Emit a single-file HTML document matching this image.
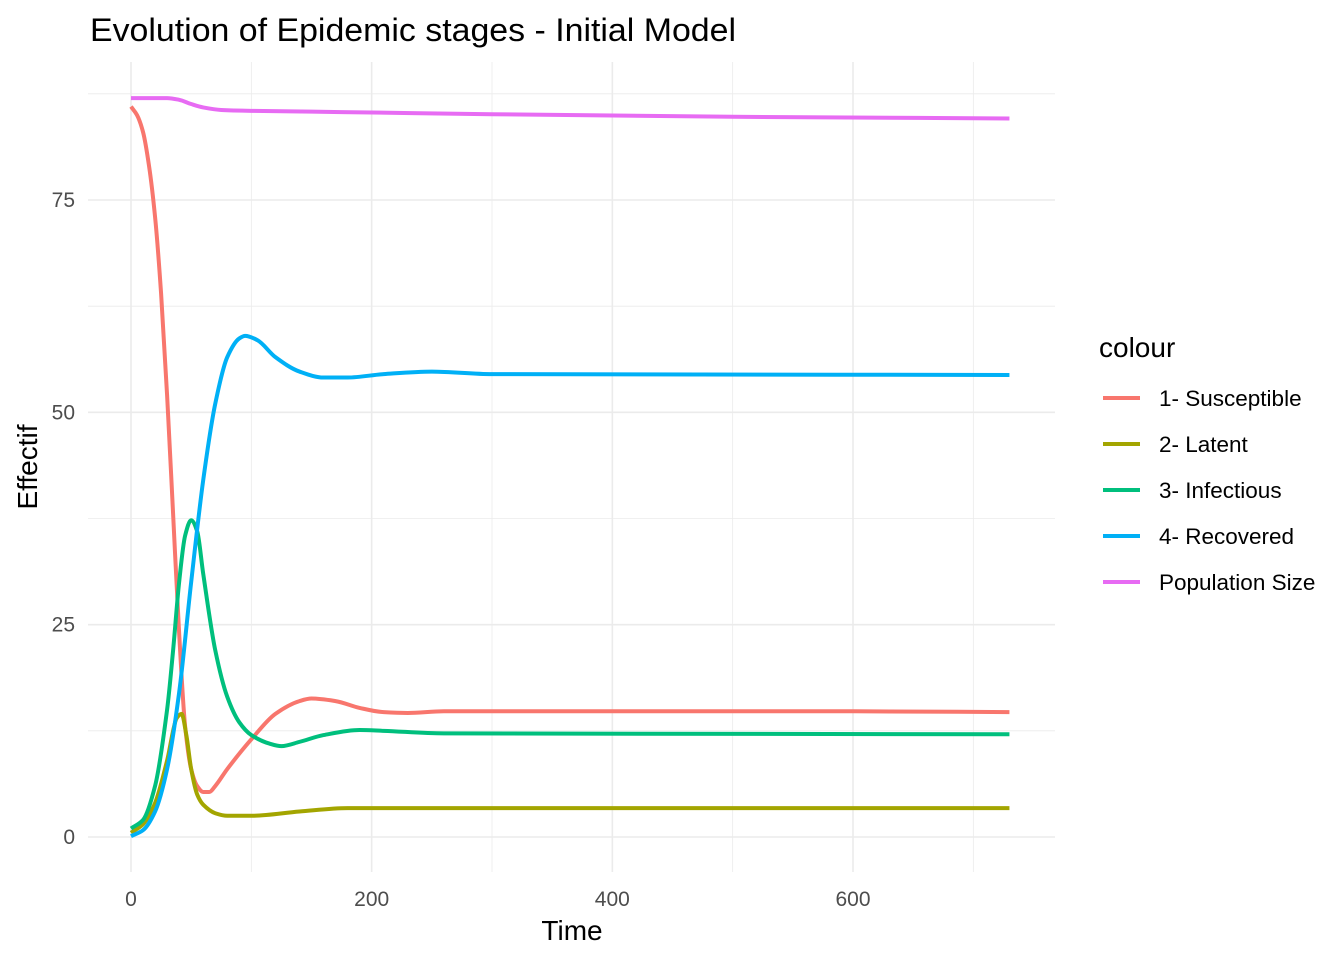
<!DOCTYPE html>
<html><head><meta charset="utf-8"><style>
body{margin:0;background:#fff;font-family:"Liberation Sans",sans-serif}
svg text{font-family:"Liberation Sans",sans-serif}
</style></head><body>
<svg id="chart" width="1344" height="960" xmlns="http://www.w3.org/2000/svg">
<text x="90" y="41" font-size="32" textLength="646" lengthAdjust="spacingAndGlyphs" fill="#000">Evolution of Epidemic stages - Initial Model</text>
<g id="grid"></g>
<g id="lines"></g>
<g id="axes"></g>
<text x="572" y="940" font-size="28" text-anchor="middle">Time</text>
<text transform="translate(37,467) rotate(-90)" font-size="28" text-anchor="middle">Effectif</text>
<g id="legend">
<text x="1099" y="357" font-size="28">colour</text>
</g>
</svg>
<script>
const seriesNames=["1- Susceptible","2- Latent","3- Infectious","4- Recovered","Population Size"];
const seriesColors=["#F8766D","#A3A500","#00BF7D","#00B0F6","#E76BF3"];
const susT=[0,5,10,15,20,25,30,35,40,45,50,55,60,65,70,80,100,120,140,150,170,190,210,230,260,300,400,600,730];
const susV=[86,85,83,79,73,64,52,38,24,13,8,6,5.3,5.3,6,8,11.5,14.5,16,16.3,16,15.2,14.7,14.6,14.8,14.8,14.8,14.8,14.7];
const latT=[0,10,20,30,38,42,46,50,55,60,70,80,100,140,180,200,300,730];
const latV=[0.5,1.5,4,9,14,14.5,12,8,5,3.8,2.8,2.5,2.5,3.0,3.4,3.4,3.4,3.4];
const infT=[0,10,20,30,35,40,45,50,55,60,70,80,90,100,115,125,140,160,190,210,260,730];
const infV=[1,2,6,15,22,30,35.5,37.3,36,31,22,16.5,13.5,12,11,10.7,11.2,12,12.6,12.5,12.2,12.1];
const recT=[0,10,20,30,40,50,60,70,80,90,95,105,120,140,160,180,210,250,300,730];
const recV=[0.1,0.8,3,8,17,30,42,51,56.5,58.7,59,58.5,56.5,54.8,54.1,54.1,54.5,54.8,54.5,54.4];
const popT=[0,30,40,50,60,75,100,150,200,300,500,730];
const popV=[87,87,86.8,86.3,85.9,85.6,85.5,85.4,85.3,85.1,84.8,84.6];
const xTicks=[0,200,400,600];
const yTicks=[0,25,50,75];
const NS="http://www.w3.org/2000/svg";
const X0=88,X1=1055,Y0=62,Y1=872;
const sx=v=>131+v*(853-131)/600;
const sy=v=>837-v*(837-200)/75;
function mk(tag,attrs,parent){const e=document.createElementNS(NS,tag);for(const k in attrs)e.setAttribute(k,attrs[k]);parent.appendChild(e);return e;}
const grid=document.getElementById('grid'),axes=document.getElementById('axes'),lines=document.getElementById('lines'),legend=document.getElementById('legend');
for(let v=-100;v<=800;v+=100){const x=sx(v);if(x<X0||x>X1)continue;
 const l=mk('line',{x1:x,x2:x,y1:Y0,y2:Y1,stroke:'#ebebeb','stroke-width':v%200===0?1.6:0.8},grid);
 
 }
for(let v=-12.5;v<=100;v+=12.5){const y=sy(v);if(y<Y0||y>Y1)continue;
 const l=mk('line',{x1:X0,x2:X1,y1:y,y2:y,stroke:'#ebebeb','stroke-width':v%25===0?1.6:0.8},grid);
 
 }
xTicks.forEach(v=>{const t=mk('text',{x:sx(v),y:906,'font-size':21,fill:'#4d4d4d','text-anchor':'middle'},axes);t.textContent=v;
 
 });
yTicks.forEach(v=>{const t=mk('text',{x:75,y:sy(v)+7,'font-size':21,fill:'#4d4d4d','text-anchor':'end'},axes);t.textContent=v;
 
 });
function path(T,V){
 const n=T.length,xs=T.map(sx),ys=V.map(sy);
 const d=[],m=new Array(n);
 for(let i=0;i<n-1;i++)d.push((ys[i+1]-ys[i])/(xs[i+1]-xs[i]));
 m[0]=d[0];m[n-1]=d[n-2];
 for(let i=1;i<n-1;i++){m[i]=(d[i-1]*d[i]<=0)?0:2/(1/d[i-1]+1/d[i]);}
 let s='M'+xs[0]+','+ys[0];
 for(let i=0;i<n-1;i++){const h=(xs[i+1]-xs[i])/3;
  s+=` C${xs[i]+h},${ys[i]+m[i]*h} ${xs[i+1]-h},${ys[i+1]-m[i+1]*h} ${xs[i+1]},${ys[i+1]}`;}
 return s;}
const data=[[susT,susV],[latT,latV],[infT,infV],[recT,recV],[popT,popV]];
const keys=['susceptible','latent','infectious','recovered','population-size'];
data.forEach((s,i)=>{const p=mk('path',{d:path(s[0],s[1]),fill:'none',stroke:seriesColors[i],'stroke-width':4,'stroke-linejoin':'round'},lines);
 
 
 const y=398+i*46;
 const k=mk('line',{x1:1103,x2:1140,y1:y,y2:y,stroke:seriesColors[i],'stroke-width':4},legend);
 
 
 const t=mk('text',{x:1159,y:y+8,'font-size':22.5},legend);t.textContent=seriesNames[i];
 
 });
</script>
</body></html>
